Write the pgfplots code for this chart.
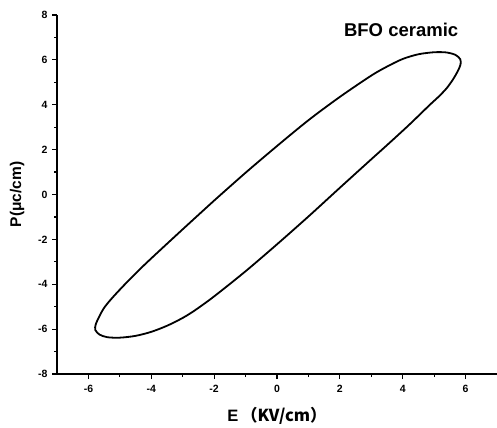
\documentclass[border=0pt]{standalone}
\usepackage{fontspec}
\setmainfont{Liberation Sans}
\newfontfamily\cjk{Noto Sans CJK SC}
\usepackage{pgfplots}
\pgfplotsset{compat=1.18}
\begin{document}
\begin{tikzpicture}
\begin{axis}[
  scale only axis,
  width=440pt, height=359pt,
  xmin=-7, xmax=7, ymin=-8, ymax=8,
  axis lines=left,
  axis line style={-, line width=1.5pt},
  xtick={-6,-4,-2,0,2,4,6},
  ytick={-8,-6,-4,-2,0,2,4,6,8},
  minor tick num=1,
  tick align=outside,
  major tick length=5pt,
  minor tick length=3pt,
  every tick/.style={black, line width=1.2pt},
  /pgf/number format/assume math mode=true,
  xticklabel={\fontsize{10.5}{12}\selectfont\textbf{\pgfmathprintnumber{\tick}}},
  yticklabel={\fontsize{10.5}{12}\selectfont\textbf{\pgfmathprintnumber{\tick}}},
  xticklabel style={yshift=-3pt},
  yticklabel style={xshift=-1pt},
  xlabel={E\,\cjk{（}KV/cm\cjk{）}},
  ylabel={P(μc/cm)},
  xlabel style={font=\fontsize{16.5}{19}\selectfont\bfseries, at={(axis description cs:0.5,-0.117)}, anchor=center},
  ylabel style={font=\fontsize{15.5}{18}\selectfont\bfseries, at={(axis description cs:-0.0909,0.5)}, anchor=center, rotate=0},
  clip=false,
]
\addplot[black, line width=1.8pt, smooth] coordinates {
(-2.00,-0.27)
(-1.00,0.97)
(0.00,2.16)
(1.00,3.31)
(2.00,4.35)
(3.00,5.30)
(3.50,5.70)
(4.00,6.04)
(4.50,6.25)
(5.00,6.34)
(5.40,6.33)
(5.68,6.22)
(5.83,6.03)
(5.84,5.80)
(5.76,5.52)
(5.60,5.13)
(5.40,4.74)
(5.15,4.37)
(4.85,3.98)
(4.20,3.10)
(3.50,2.20)
(3.00,1.57)
(2.00,0.30)
(1.00,-0.98)
(0.00,-2.22)
(-1.00,-3.42)
(-2.00,-4.54)
(-2.60,-5.15)
(-3.00,-5.50)
(-3.50,-5.85)
(-4.00,-6.12)
(-4.50,-6.30)
(-5.00,-6.38)
(-5.40,-6.36)
(-5.65,-6.24)
(-5.78,-6.04)
(-5.77,-5.80)
(-5.66,-5.45)
(-5.50,-5.05)
(-5.25,-4.62)
(-4.81,-3.96)
(-4.17,-3.07)
(-3.00,-1.55)
(-2.00,-0.27)
};
\node[font=\fontsize{18.5}{21}\selectfont\bfseries] at (axis cs:3.95,7.34) {BFO ceramic};
\coordinate (sw) at (rel axis cs:0,0);
\coordinate (ne) at (rel axis cs:1,1);
\end{axis}
\pgfresetboundingbox
\path ([shift={(-57pt,-53pt)}]sw) rectangle ([shift={(0pt,15pt)}]ne);
\end{tikzpicture}
\end{document}
